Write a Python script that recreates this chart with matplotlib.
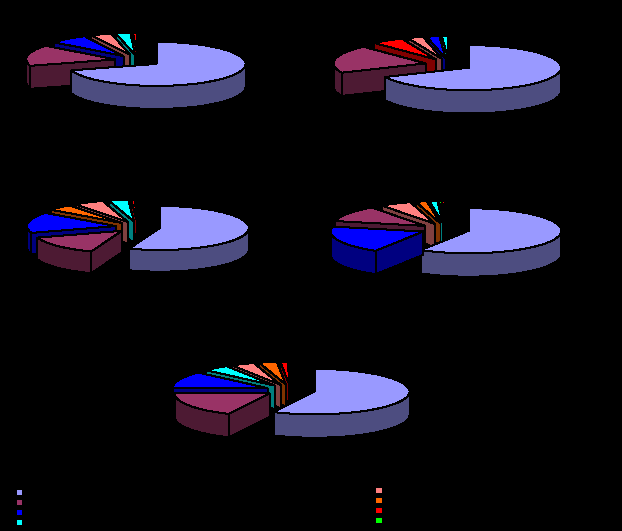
import numpy as np
import matplotlib

matplotlib.use("Agg")
import matplotlib.pyplot as plt
from matplotlib.patches import Polygon, Rectangle

# series colours, top face and shaded side
periwinkle = ("#9999FF", "#4D4D80")
plum = ("#993366", "#4D1A33")
blue = ("#0000FF", "#000080")
cyan = ("#00FFFF", "#008080")
pink = ("#FF8080", "#804040")
orange = ("#FF6600", "#803300")
red = ("#FF0000", "#800000")
green = ("#00FF00", "#008000")

# shares, clockwise from 12 o'clock
pie1_values = [70.3, 15.4, 7.1, 3.75, 2.65, 0.8]
pie1_colors = [periwinkle, plum, blue, pink, cyan, red]
pie2_values = [68.2, 20.0, 5.7, 2.8, 2.2, 1.1]
pie2_colors = [periwinkle, plum, red, pink, blue, cyan]
pie3_values = [55.6, 14.4, 15.3, 4.6, 5.5, 3.55, 0.65, 0.4]
pie3_colors = [periwinkle, plum, blue, orange, pink, cyan, red, green]
pie4_values = [58.6, 19.9, 11.7, 5.5, 1.95, 1.4, 0.45, 0.5]
pie4_colors = [periwinkle, blue, plum, pink, orange, cyan, green, red]
pie5_values = [57.1, 18.0, 11.9, 4.45, 4.0, 3.05, 1.3, 0.2]
pie5_colors = [periwinkle, plum, blue, cyan, pink, orange, red, green]

legend_left = [periwinkle, plum, blue, cyan]
legend_right = [pink, orange, red, green]


def point(apex, rx, ry, angle):
    # angle in degrees, clockwise from the top of the ellipse
    a = np.radians(angle)
    return np.array([apex[0] + rx * np.sin(a), apex[1] - ry * np.cos(a)])


def face(ax, pts, color, z):
    ax.add_patch(Polygon(pts, closed=True, facecolor=color, edgecolor="black",
                         linewidth=0.72, antialiased=False, zorder=z))


def pie3d(ax, values, colors, cx, cy, rx, ry, depth, explode):
    values = np.asarray(values, dtype=float)
    edges = np.concatenate([[0], np.cumsum(values) / values.sum() * 360])

    slices = []
    for i, (a0, a1) in enumerate(zip(edges[:-1], edges[1:])):
        mid = np.radians((a0 + a1) / 2)
        apex = np.array([cx + explode * rx * np.sin(mid), cy - explode * ry * np.cos(mid)])
        arc = np.linspace(a0, a1, max(int(a1 - a0), 2) + 1)
        rim = np.array([point(apex, rx, ry, t) for t in arc])
        top = np.vstack([[apex], rim])
        key = apex[1] - 0.6 * ry * np.cos(mid)
        slices.append((key, i, a0, a1, apex, top))

    # back to front
    z = 1
    for _, i, a0, a1, apex, top in sorted(slices, key=lambda s: s[0]):
        shade = colors[i][1]
        down = np.array([0, depth])
        first = point(apex, rx, ry, a0)
        last = point(apex, rx, ry, a1)

        if np.sin(np.radians(a1)) > 0:
            face(ax, [apex, last, last + down, apex + down], shade, z)
        if np.sin(np.radians(a0)) < 0:
            face(ax, [apex, first, first + down, apex + down], shade, z)

        lo, hi = max(a0, 90), min(a1, 270)
        if hi > lo:
            arc = np.linspace(lo, hi, max(int(hi - lo), 2) + 1)
            rim = np.array([point(apex, rx, ry, t) for t in arc])
            face(ax, np.vstack([rim, rim[::-1] + down]), shade, z)

        face(ax, top, colors[i][0], z)
        z += 1


fig = plt.figure(figsize=(6.22, 5.31), dpi=100, facecolor="black")
ax = fig.add_axes([0, 0, 1, 1])
ax.set_xlim(0, 622)
ax.set_ylim(531, 0)
ax.axis("off")

pie3d(ax, pie1_values, pie1_colors, 138, 60.5, 89, 22, 23, 0.26)
pie3d(ax, pie2_values, pie2_colors, 449, 64.5, 92, 22.5, 23.3, 0.26)
pie3d(ax, pie3_values, pie3_colors, 138, 227, 89, 22, 21.7, 0.25)
pie3d(ax, pie4_values, pie4_colors, 445.5, 229.2, 92.7, 22.5, 23.4, 0.26)
pie3d(ax, pie5_values, pie5_colors, 290.5, 390.3, 95, 22.7, 23.4, 0.26)

for i, c in enumerate(legend_left):
    ax.add_patch(Rectangle((17, 490 + 10 * i), 5, 5, facecolor=c[0], linewidth=0,
                           antialiased=False))
for i, c in enumerate(legend_right):
    ax.add_patch(Rectangle((376, 488 + 10 * i), 6, 5, facecolor=c[0], linewidth=0,
                           antialiased=False))

fig.savefig("out.png", dpi=100, facecolor="black")
